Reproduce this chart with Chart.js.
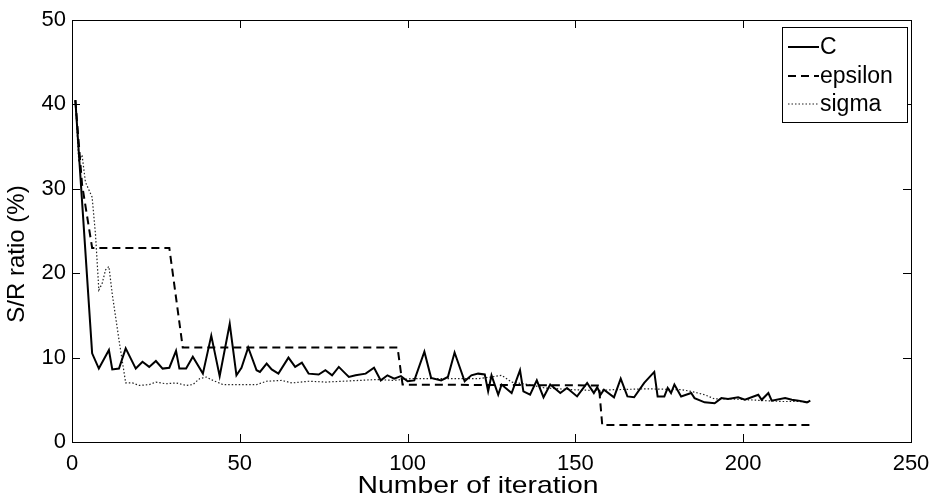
<!DOCTYPE html>
<html>
<head>
<meta charset="utf-8">
<script src="https://cdn.jsdelivr.net/npm/chart.js@4/dist/chart.umd.min.js"></script>
<style>
  html, body { margin: 0; padding: 0; background: #fff; }
  #wrap { width: 933px; height: 499px; position: relative; }
</style>
</head>
<body>
<div id="wrap"><canvas id="srChart"></canvas></div>
<script>
// C series (iteration, S/R %)
const cIter = [1, 6, 8, 11, 12, 14, 16, 19, 21, 23, 25, 27, 29, 31, 32, 34, 36, 39, 41.5, 44, 47, 49, 50.5, 52.5, 55, 56, 58, 59.5, 61.5, 64.5, 66.5, 68.5, 70.5, 73.5, 75.5, 77.5, 79.5, 81.5, 82.5, 84.5, 87.5, 90, 92, 94, 96, 98, 100, 102, 105, 107, 110, 112, 114, 117, 119, 121, 123, 124, 125, 127, 128, 131, 133.5, 134.5, 136.5, 138.5, 140.5, 142.5, 145.5, 147.5, 150.5, 153.5, 155.5, 156.5, 157.5, 158.5, 161.5, 163.5, 165.5, 167.5, 170.5, 173.5, 174.5, 176.5, 177.5, 178.5, 179.5, 181.5, 184.5, 185.5, 188.5, 191.5, 193.5, 195.5, 198.5, 200.5, 204.5, 205.5, 207.5, 208.5, 212.5, 214.5, 216.5, 219, 220];
const cVal = [40.5, 10.5, 8.7, 10.9, 8.6, 8.7, 11.1, 8.7, 9.5, 8.9, 9.6, 8.7, 8.8, 10.8, 8.7, 8.7, 10.1, 8.1, 12.6, 7.8, 14.0, 7.9, 8.8, 11.2, 8.5, 8.3, 9.3, 8.6, 8.1, 10.0, 8.9, 9.4, 8.1, 8.0, 8.5, 7.9, 8.9, 8.1, 7.7, 7.9, 8.1, 8.8, 7.3, 7.9, 7.5, 7.8, 7.2, 7.3, 10.7, 7.6, 7.3, 7.7, 10.6, 7.2, 7.9, 8.1, 8.0, 6.0, 7.9, 5.6, 6.8, 5.8, 8.5, 6.0, 5.6, 7.3, 5.3, 6.8, 5.8, 6.4, 5.4, 7.0, 5.8, 6.5, 5.6, 6.2, 5.3, 7.5, 5.4, 5.3, 7.0, 8.3, 5.4, 5.4, 6.4, 5.8, 6.8, 5.4, 5.8, 5.2, 4.7, 4.6, 5.2, 5.1, 5.3, 5.0, 5.6, 5.0, 5.8, 4.9, 5.2, 5.0, 4.9, 4.7, 4.9];

// epsilon series
const epsIter = [1, 3, 6, 29, 33, 97, 98.5, 157, 158, 220];
const epsVal = [40.5, 30.5, 23, 23, 11.2, 11.2, 6.8, 6.7, 2.0, 2.0];

// sigma series
const sigIter = [1, 2, 3, 4, 6, 7, 8, 9, 10, 11, 12, 14, 16, 18, 20, 23, 25, 28, 31, 34, 36, 38, 40, 42, 45, 50, 55, 58, 62.5, 65.5, 70.6, 75.6, 80.7, 85.7, 90.8, 95.8, 100.9, 111, 121, 125, 128, 131, 136, 141, 149, 156, 161.5, 171.5, 181.5, 184.5, 188.5, 191.5, 196.5, 201.5, 206.5, 211.5, 216.5, 220];
const sigVal = [40.5, 33.4, 34, 30.8, 29.0, 24.6, 18.0, 18.8, 20.4, 20.8, 17.5, 12.1, 7.0, 7.0, 6.7, 6.8, 7.1, 6.9, 7.0, 6.7, 6.8, 7.5, 7.7, 7.3, 6.8, 6.8, 6.8, 7.2, 7.3, 7.0, 7.2, 7.1, 7.2, 7.3, 7.4, 7.3, 7.5, 7.5, 7.5, 7.7, 7.9, 7.1, 6.8, 6.4, 6.2, 6.1, 6.2, 6.3, 6.2, 6.0, 5.6, 5.1, 5.1, 5.0, 4.9, 4.8, 4.8, 4.7];

const seriesNames = ['C', 'epsilon', 'sigma'];
const xTicks = [0, 50, 100, 150, 200, 250];
const yTicks = [0, 10, 20, 30, 40, 50];
const xTitle = 'Number of iteration';
const yTitle = 'S/R ratio (%)';

function toPoints(xs, ys) {
    return xs.map(function (x, i) { return { x: x, y: ys[i] }; });
}

const FONT = "'Liberation Sans', Arial, sans-serif";

// matlab-like box with inward ticks, axis titles and the boxed legend
const matlabBox = {
    id: 'matlabBox',
    afterDatasetsDraw(chart) {
        const ctx = chart.ctx;
        const a = chart.chartArea;
        const xs = chart.scales.x, ys = chart.scales.y;
        ctx.save();
        ctx.strokeStyle = '#000';
        ctx.lineWidth = 1;
        ctx.setLineDash([]);
        ctx.strokeRect(Math.round(a.left) + 0.5, Math.round(a.top) + 0.5,
            Math.round(a.right - a.left), Math.round(a.bottom - a.top));
        const tl = 8;
        ctx.beginPath();
        xTicks.forEach(function (v) {
            const px = Math.round(xs.getPixelForValue(v)) + 0.5;
            ctx.moveTo(px, a.bottom); ctx.lineTo(px, a.bottom - tl);
            ctx.moveTo(px, a.top); ctx.lineTo(px, a.top + tl);
        });
        yTicks.forEach(function (v) {
            const py = Math.round(ys.getPixelForValue(v)) + 0.5;
            ctx.moveTo(a.left, py); ctx.lineTo(a.left + tl, py);
            ctx.moveTo(a.right, py); ctx.lineTo(a.right - tl, py);
        });
        ctx.stroke();

        // axis titles (the original figure is a bit stretched sideways)
        ctx.fillStyle = '#000';
        ctx.font = '24px ' + FONT;
        ctx.textAlign = 'center';
        ctx.textBaseline = 'middle';
        ctx.save();
        ctx.translate(478, 486);
        ctx.scale(1.18, 1);
        ctx.fillText(xTitle, 0, 0);
        ctx.restore();
        ctx.save();
        ctx.translate(17, 254);
        ctx.rotate(-Math.PI / 2);
        ctx.fillText(yTitle, 0, 0);
        ctx.restore();

        // legend
        const bx = 782, by = 27, bw = 125, bh = 95;
        ctx.fillStyle = '#fff';
        ctx.fillRect(bx, by, bw, bh);
        ctx.strokeRect(bx + 0.5, by + 0.5, bw, bh);
        ctx.font = '23px ' + FONT;
        ctx.textAlign = 'left';
        ctx.textBaseline = 'middle';
        ctx.fillStyle = '#000';
        const rows = [47, 76, 104];
        chart.data.datasets.forEach(function (ds, i) {
            ctx.beginPath();
            ctx.lineWidth = ds.borderWidth;
            ctx.strokeStyle = ds.borderColor;
            ctx.setLineDash(ds.borderDash || []);
            ctx.moveTo(788, rows[i]);
            ctx.lineTo(819, rows[i]);
            ctx.stroke();
            ctx.setLineDash([]);
            ctx.fillText(ds.label, 820, rows[i] + 1);
        });
        ctx.restore();
    }
};

new Chart(document.getElementById('srChart'), {
    type: 'line',
    data: {
        datasets: [
            {
                label: seriesNames[0],
                data: toPoints(cIter, cVal),
                borderColor: '#000',
                borderWidth: 2,
                pointRadius: 0,
                tension: 0
            },
            {
                label: seriesNames[1],
                data: toPoints(epsIter, epsVal),
                borderColor: '#000',
                borderWidth: 2,
                borderDash: [8, 5],
                pointRadius: 0,
                tension: 0
            },
            {
                label: seriesNames[2],
                data: toPoints(sigIter, sigVal),
                borderColor: '#222',
                borderWidth: 1.2,
                borderDash: [1.5, 2],
                pointRadius: 0,
                tension: 0
            }
        ]
    },
    options: {
        responsive: true,
        maintainAspectRatio: false,
        animation: false,
        layout: { padding: { top: 20, right: 22, left: 0, bottom: 0 } },
        plugins: {
            legend: { display: false },
            tooltip: { enabled: false }
        },
        scales: {
            x: {
                type: 'linear',
                min: 0,
                max: 250,
                border: { display: false },
                grid: { display: false, drawTicks: false },
                afterFit: function (s) {
                    s.height = 57;
                    s.paddingLeft = 0;
                    s.paddingRight = 0;
                },
                afterBuildTicks: function (s) { s.ticks = xTicks.map(function (v) { return { value: v }; }); },
                ticks: {
                    color: '#000',
                    font: { family: FONT, size: 22 },
                    padding: 9,
                    maxRotation: 0
                }
            },
            y: {
                min: 0,
                max: 50,
                border: { display: false },
                grid: { display: false, drawTicks: false },
                afterFit: function (s) {
                    s.width = 72;
                    s.paddingTop = 0;
                    s.paddingBottom = 0;
                },
                afterBuildTicks: function (s) { s.ticks = yTicks.map(function (v) { return { value: v }; }); },
                ticks: {
                    color: '#000',
                    font: { family: FONT, size: 22 },
                    padding: 6
                }
            }
        }
    },
    plugins: [matlabBox]
});
</script>
</body>
</html>
